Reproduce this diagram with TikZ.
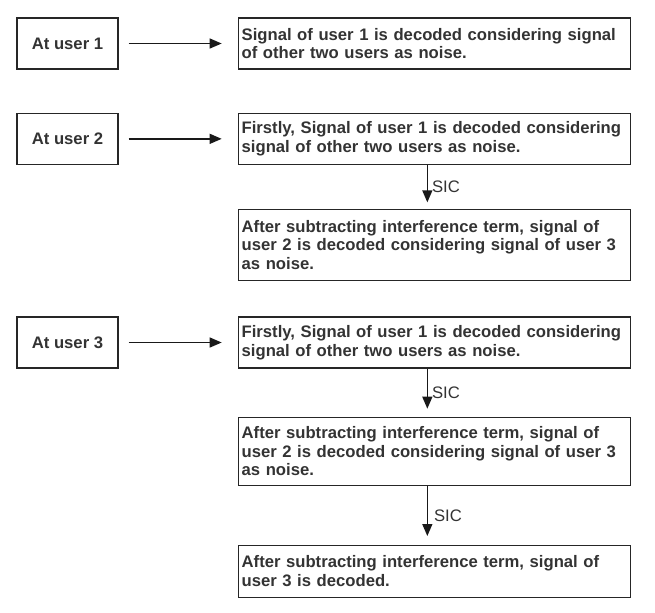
\documentclass[tikz,border=0pt]{standalone}
\usepackage{fontspec}
\setmainfont{Liberation Sans}
\usepackage{xcolor}
\usepackage{tikz}
\usetikzlibrary{arrows.meta,positioning}

\begin{document}
\begin{tikzpicture}[
  font=\bfseries\fontsize{12.5}{14}\selectfont,
  user/.style={draw=black!85, line width=1pt, text=black!80, align=center, minimum width=75.75pt, minimum height=38.25pt},
  stage/.style={draw=black!85, line width=1pt, text=black!80, align=left, inner xsep=2.5pt, inner ysep=3pt, text width=289pt, minimum height=38.25pt},
  arrow/.style={-{Triangle[length=9pt, width=7.5pt]}, line width=1pt, draw=black!90},
  sic/.style={right, text=black!80, font=\fontsize{12.5}{14}\selectfont, inner sep=3pt}
]
  \useasboundingbox (0,0) rectangle (491.25pt,-459pt);
  \hyphenpenalty=10000

  % user 1
  \node[user] (u1) at (50.625pt,-32.625pt) {At user 1};
  \node[stage, right=89.25pt of u1] (r1_a) {Signal of user 1 is decoded considering signal\\of other two users as noise.};

  % user 2
  \node[user, below=32.25pt of u1] (u2) {At user 2};
  \node[stage, right=89.25pt of u2] (r2_a) {Firstly, Signal of user 1 is decoded considering\\signal of other two users as noise.};
  \node[stage, below=33pt of r2_a, minimum height=53pt] (r2_b) {After subtracting interference term, signal of\\user 2 is decoded considering signal of user 3\\as noise.};

  % user 3
  \node[stage, below=26.5pt of r2_b] (r3_a) {Firstly, Signal of user 1 is decoded considering\\signal of other two users as noise.};
  \node[user, left=89.25pt of r3_a] (u3) {At user 3};
  \node[stage, below=36pt of r3_a, minimum height=51pt] (r3_b) {After subtracting interference term, signal of\\user 2 is decoded considering signal of user 3\\as noise.};
  \node[stage, below=44pt of r3_b, minimum height=39pt] (r3_c) {After subtracting interference term, signal of\\user 3 is decoded.};

  \foreach \i in {1,2,3}
    \draw[arrow, shorten <=7.5pt, shorten >=12pt] (u\i) -- (r\i_a);

  \draw[arrow, shorten >=5pt] ([xshift=-5.25pt]r2_a.south) -- node[sic]{SIC} ([xshift=-5.25pt]r2_b.north);
  \draw[arrow, shorten >=6pt] ([xshift=-5.25pt]r3_a.south) -- node[sic]{SIC} ([xshift=-5.25pt]r3_b.north);
  \draw[arrow, shorten >=6.5pt] ([xshift=-5.25pt]r3_b.south) -- node[sic, xshift=1.5pt]{SIC} ([xshift=-5.25pt]r3_c.north);
\end{tikzpicture}
\end{document}
